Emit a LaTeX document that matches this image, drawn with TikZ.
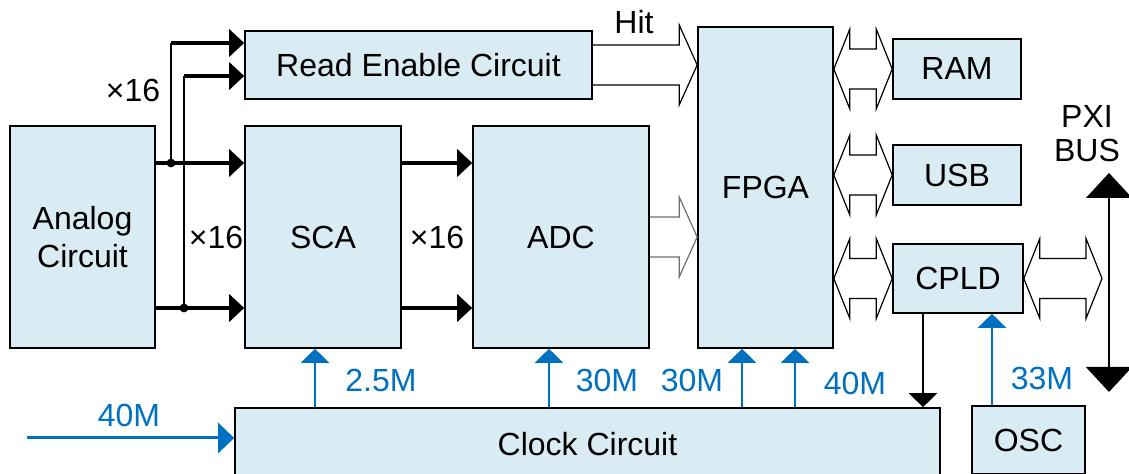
\documentclass[tikz,border=0pt]{standalone}
\usepackage{fontspec}
\setmainfont{Liberation Sans}
\usetikzlibrary{arrows.meta,calc}
\definecolor{boxfill}{RGB}{218,236,243}
\definecolor{clkblue}{RGB}{0,112,192}
\definecolor{hollowgray}{RGB}{110,110,110}
\newcommand{\hollowright}[3][black]{%
  \draw[draw=#1, line width=0.6pt, line join=miter] let \p1=(#2), \p2=(#3) in
    (\x1,\y1+10pt) -- (\x2-9pt,\y1+10pt) -- (\x2-9pt,\y1+20pt) -- (\x2,\y1)
    -- (\x2-9pt,\y1-20pt) -- (\x2-9pt,\y1-10pt) -- (\x1,\y1-10pt);}
\newcommand{\hollowboth}[3][black]{%
  \draw[draw=#1, line width=0.6pt, line join=miter] let \p1=(#2), \p2=(#3) in
    (\x1,\y2) -- (\x1+8pt,\y2+20pt) -- (\x1+8pt,\y2+10pt) -- (\x2-8pt,\y2+10pt)
    -- (\x2-8pt,\y2+20pt) -- (\x2,\y2) -- (\x2-8pt,\y2-20pt) -- (\x2-8pt,\y2-10pt)
    -- (\x1+8pt,\y2-10pt) -- (\x1+8pt,\y2-20pt) -- cycle;}
\begin{document}
\begin{tikzpicture}[x=0.5pt,y=-0.5pt,
  blk/.style={draw=black, fill=boxfill, line width=0.8pt, inner sep=0pt, align=center,
    font=\fontsize{16}{19}\selectfont},
  bus/.style={line width=2pt, -{Triangle[length=7.5pt,width=13.5pt]}},
  vbus/.style={line width=1.3pt},
  clk/.style={draw=clkblue, line width=1pt, -{Triangle[length=7pt,width=14pt]}},
  thinarr/.style={draw=black, line width=0.8pt, -{Triangle[length=7pt,width=14pt]}},
  lbl/.style={inner sep=0pt, font=\fontsize{16}{17}\selectfont},
  clklbl/.style={lbl, text=clkblue}]
\useasboundingbox (0,0) rectangle (1129,474);
% blocks
\node[blk, minimum width=72.5pt, minimum height=111pt] (analog) at (82.5,237) {Analog\\Circuit};
\node[blk, minimum width=173.5pt, minimum height=34pt] (re) at (418.5,65) {Read Enable Circuit};
\node[blk, minimum width=78pt, minimum height=111pt] (sca) at (323,237) {SCA};
\node[blk, minimum width=88pt, minimum height=111pt] (adc) at (561,237) {ADC};
\node[blk, minimum width=67.5pt, minimum height=160.5pt] (fpga) at (765.5,187.5) {FPGA};
\node[blk, minimum width=64pt, minimum height=30pt] (ram) at (957,69) {RAM};
\node[blk, minimum width=64pt, minimum height=30pt] (usb) at (957,175) {USB};
\node[blk, minimum width=65pt, minimum height=34.5pt] (cpld) at (958,278.5) {CPLD};
\node[blk, minimum width=352.5pt, minimum height=36pt] (clock) at (587.5,444) {Clock Circuit};
\node[blk, minimum width=56.5pt, minimum height=34pt] (osc) at (1028.5,440) {OSC};
% analog fan-out
\coordinate (j1) at (171,163);
\coordinate (j2) at (184,308);
\coordinate (reA) at ($(re.west)+(0,-22)$);
\coordinate (reB) at ($(re.west)+(0,11)$);
\draw[bus] (analog.east|-j1) -- (sca.west|-j1);
\draw[bus] (analog.east|-j2) -- (sca.west|-j2);
\draw[vbus] (j1) -- (j1|-reA);
\draw[bus] (j1|-reA) -- (reA);
\draw[vbus] (j2) -- (j2|-reB);
\draw[bus] (j2|-reB) -- (reB);
\fill (j1) circle (2.2pt);
\fill (j2) circle (2.2pt);
\draw[bus] (sca.east|-j1) -- (adc.west|-j1);
\draw[bus] (sca.east|-j2) -- (adc.west|-j2);
% hollow buses
\hollowright{re.east}{fpga.west}
\hollowright[hollowgray]{adc.east}{fpga.west}
\hollowboth{fpga.east}{ram.west}
\hollowboth{fpga.east}{usb.west}
\hollowboth{fpga.east}{cpld.west}
\coordinate (pxiR) at (1102,278.5);
\hollowboth{cpld.east}{pxiR}
% PXI bus
\coordinate (pxiT) at (1109,173);
\coordinate (pxiB) at (1109,392);
\draw[line width=0.8pt, {Triangle[length=12.5pt,width=23pt]}-{Triangle[length=12.5pt,width=23pt]}] (pxiT) -- (pxiB);
% clocks
\coordinate (c1) at (315,0);
\coordinate (c2) at (549,0);
\coordinate (c3) at (742,0);
\coordinate (c4) at (795,0);
\coordinate (c5) at (923,0);
\coordinate (c6) at (992,0);
\draw[clk] (clock.north-|c1) -- (sca.south-|c1);
\draw[clk] (clock.north-|c2) -- (adc.south-|c2);
\draw[clk] (clock.north-|c3) -- (fpga.south-|c3);
\draw[clk] (clock.north-|c4) -- (fpga.south-|c4);
\draw[thinarr] (cpld.south-|c5) -- (clock.north-|c5);
\draw[clk] (osc.north-|c6) -- (cpld.south-|c6);
\coordinate (in40) at (27,438);
\draw[draw=clkblue, line width=1.5pt, -{Triangle[length=8pt,width=15pt]}] (in40) -- (clock.west|-in40);
% labels
\node[lbl] (x16a) at (133,90) {×16};
\node[lbl] (x16b) at (216,237) {×16};
\node[lbl] (x16c) at (437,237) {×16};
\node[lbl] (hit) at (634,22) {Hit};
\node[lbl, align=center, font=\fontsize{16}{17}\selectfont] (pxi) at (1087,134) {PXI\\BUS};
\node[clklbl] (l25) at (381,380) {2.5M};
\node[clklbl] (l30a) at (607,380) {30M};
\node[clklbl] (l30b) at (692,380) {30M};
\node[clklbl] (l40b) at (855,383) {40M};
\node[clklbl] (l33) at (1042,378) {33M};
\node[clklbl] (l40a) at (129,415) {40M};
\end{tikzpicture}
\end{document}
